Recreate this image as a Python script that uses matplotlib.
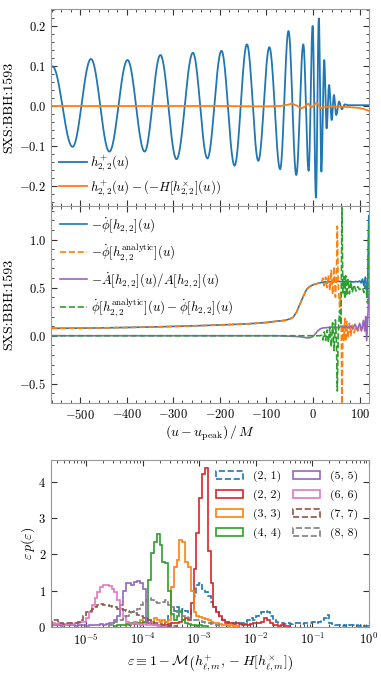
import numpy as np
import matplotlib
matplotlib.use("Agg")
import matplotlib.pyplot as plt
from matplotlib.ticker import MultipleLocator, LogLocator, NullFormatter

plt.rcParams["font.family"] = "serif"
plt.rcParams["font.serif"] = ["cmr10", "DejaVu Serif"]
plt.rcParams["mathtext.fontset"] = "cm"
plt.rcParams["axes.formatter.use_mathtext"] = True
plt.rcParams["font.size"] = 9
plt.rcParams["axes.labelsize"] = 10
plt.rcParams["legend.fontsize"] = 9.3

# ---- top panel: h22 plus, extrema (u, value)
ext_u = [-562, -558.9, -515.8, -476.3, -436.8, -397.9, -361.3, -327.4, -292.8, -257.7,
         -226.6, -196.4, -168.3, -141.8, -117.4, -93.7, -70.6, -52.7, -36.0, -20.9,
         -9.5, -0.9, 6.2, 12.4, 17.8, 24.0, 29.0, 34.4, 40.0, 44.7, 49.7, 55.9, 61.7,
         67.9, 75.0, 119.5]
ext_v = [0.097, 0.099, -0.102, 0.1175, -0.114, 0.115, -0.114, 0.1275, -0.133, 0.133,
         -0.131, 0.138, -0.149, 0.154, -0.137, 0.147, -0.158, 0.1875, -0.1725, 0.154,
         -0.162, 0.2, -0.229, 0.219, -0.164, 0.115, -0.056, 0.0525, -0.035, 0.0275,
         -0.0225, 0.011, -0.008, 0.004, 0.002, 0.002]

diff_u = [-562, -200, -100, -70, -55, -45, -35, -25, -18, -10, -4, 2, 8, 13, 17, 22,
          30, 45, 60, 80, 100, 110, 119.5]
diff_v = [0.0, 0.0, -0.001, 0.0, 0.003, 0.006, 0.001, -0.006, -0.002, 0.006, -0.004,
          0.002, 0.009, 0.0, -0.006, -0.002, -0.002, -0.001, -0.002, -0.003, -0.005,
          -0.008, -0.012]

# ---- middle panel: frequencies
u_mid = [-562, -500, -450, -400, -350, -300, -250, -200, -150, -120, -100, -80, -60,
         -50, -43, -35, -28, -20, -14, -8, 0, 10, 15, 18, 21, 24, 27, 30, 33, 36, 39,
         42, 45, 48, 50, 52, 54, 57, 60, 62, 64, 66, 68, 70, 72, 75, 78, 81, 84, 88,
         92, 96, 100, 103, 106, 109, 112, 115, 117, 119.5]
omega = [0.077, 0.079, 0.082, 0.086, 0.091, 0.097, 0.104, 0.112, 0.122, 0.13, 0.138,
         0.15, 0.16, 0.175, 0.19, 0.25, 0.33, 0.42, 0.48, 0.51, 0.53, 0.545, 0.55,
         0.555, 0.555, 0.56, 0.56, 0.56, 0.56, 0.56, 0.565, 0.565, 0.565, 0.565, 0.565,
         0.565, 0.565, 0.565, 0.565, 0.565, 0.565, 0.565, 0.565, 0.565, 0.565, 0.565,
         0.565, 0.565, 0.56, 0.56, 0.565, 0.56, 0.57, 0.55, 0.59, 0.52, 0.61, 0.5,
         0.42, 1.25]
omega_an = [0.077, 0.079, 0.082, 0.086, 0.091, 0.097, 0.104, 0.112, 0.122, 0.13, 0.138,
            0.15, 0.16, 0.175, 0.19, 0.25, 0.33, 0.42, 0.48, 0.51, 0.53, 0.545, 0.55,
            0.55, 0.6, 0.52, 0.61, 0.5, 0.63, 0.47, 0.68, 0.43, 0.72, 0.4, 0.6, 1.14,
            0.55, 0.3, 0.45, -0.8, 0.12, -0.05, 0.18, -0.06, 0.15, -0.02, 0.13, 0.0,
            0.11, 0.03, 0.1, 0.05, 0.09, 0.06, 0.09, 0.07, 0.09, 0.07, 0.08, 0.08]

u_amp = [-562, -300, -120, -80, -60, -45, -35, -25, -18, -12, -6, 0, 5, 10, 15, 20, 30,
         40, 50, 55, 60, 65, 70, 75, 80, 85, 90, 95, 100, 104, 108, 111, 113, 115, 117,
         119.5]
amp_rate = [0.0, 0.0, 0.0, 0.0, -0.003, -0.006, -0.008, -0.012, -0.018, -0.022, -0.02,
            -0.008, 0.02, 0.05, 0.07, 0.08, 0.085, 0.09, 0.09, 0.08, 0.1, 0.085, 0.095,
            0.08, 0.1, 0.07, 0.12, 0.06, 0.13, 0.05, 0.16, 0.05, 0.2, -0.05, 0.15, 0.42]

# ---- bottom panel: histograms of mismatch, 0.05-decade bins (start log10, heights)
bin_w = 0.05
modes = ["(2, 1)", "(2, 2)", "(3, 3)", "(4, 4)", "(5, 5)", "(6, 6)", "(7, 7)", "(8, 8)"]
hist_start = [-3.6, -3.6, -4.3, -4.5, -5.6, -5.6, -5.6, -4.6]
h21 = [0.15, 0.3, 0.5, 0.45, 0.55, 0.4, 0.5, 0.45, 0.35, 0.5, 0.85, 1.15, 1.2, 1.05, 0.95,
       0.85, 0.7, 0.55, 0.4, 0.25, 0.18, 0.12, 0.15, 0.12, 0.1, 0.15, 0.1, 0.12, 0.15,
       0.2, 0.25, 0.2, 0.3, 0.35, 0.4, 0.45, 0.4, 0.3, 0.2, 0.15, 0.1, 0.12, 0.08, 0.1,
       0.08, 0.1, 0.12, 0.1, 0.08, 0.1, 0.12, 0.1, 0.15, 0.12, 0.15, 0.2, 0.25, 0.32,
       0.1, 0.08, 0.05, 0.05, 0.04, 0.05, 0.04, 0.05, 0.06, 0.05, 0.04, 0.05, 0.04, 0.03]
h22 = [0.05, 0.08, 0.1, 0.12, 0.1, 0.15, 0.2, 0.25, 0.2, 0.65, 1.6, 2.6, 3.55, 4.2, 4.38,
       2.1, 1.2, 0.55, 0.4, 0.3, 0.2, 0.15, 0.12, 0.1, 0.08, 0.1, 0.08, 0.06, 0.08, 0.06,
       0.08, 0.1, 0.12, 0.1, 0.15, 0.25, 0.2, 0.1, 0.06, 0.05, 0.04, 0.05, 0.04, 0.03]
h33 = [0.05, 0.08, 0.1, 0.15, 0.1, 0.2, 0.15, 0.25, 0.2, 0.15, 0.25, 0.2, 0.15, 0.2, 0.15,
       0.2, 1.1, 1.65, 1.85, 2.4, 2.35, 1.8, 1.65, 1.0, 0.4, 0.3, 0.28, 0.25, 0.22, 0.2,
       0.15, 0.12, 0.1, 0.08, 0.06, 0.05, 0.04, 0.05, 0.04, 0.03]
h44 = [0.03, 0.05, 0.06, 0.05, 0.08, 0.06, 0.1, 0.08, 0.12, 0.1, 0.15, 0.12, 1.3, 2.05,
       2.35, 2.55, 2.25, 1.8, 1.75, 1.0, 0.35, 0.2, 0.3, 0.45, 0.2, 0.1, 0.08, 0.06, 0.05,
       0.04, 0.05, 0.04, 0.03]
h55 = [0.05, 0.06, 0.05, 0.04, 0.06, 0.05, 0.05, 0.06, 0.04, 0.05, 0.06, 0.05, 0.04, 0.06,
       0.05, 0.06, 0.05, 0.07, 0.06, 0.08, 0.1, 0.12, 0.18, 0.3, 0.6, 1.0, 1.2, 1.2, 1.15,
       1.25, 1.27, 1.2, 1.05, 0.15, 0.1, 0.08, 0.06, 0.05, 0.04, 0.05, 0.04, 0.03]
h66 = [0.1, 0.08, 0.1, 0.08, 0.06, 0.08, 0.1, 0.08, 0.1, 0.12, 0.15, 0.15, 0.25, 0.4, 0.6,
       0.8, 0.95, 1.1, 1.15, 1.15, 1.12, 1.05, 0.95, 0.75, 0.5, 0.3, 0.15, 0.1, 0.08, 0.1,
       0.08, 0.06, 0.08, 0.06, 0.05, 0.06, 0.05, 0.04, 0.05, 0.04, 0.03]
h77 = [0.2, 0.18, 0.12, 0.1, 0.08, 0.1, 0.12, 0.1, 0.12, 0.15, 0.2, 0.3, 0.4, 0.45, 0.5,
       0.55, 0.6, 0.62, 0.6, 0.6, 0.58, 0.55, 0.55, 0.5, 0.5, 0.48, 0.45, 0.42, 0.4, 0.38,
       0.32, 0.3, 0.25, 0.22, 0.18, 0.15, 0.12, 0.1, 0.08, 0.06, 0.05, 0.04, 0.05, 0.04]
h88 = [0.05, 0.1, 0.15, 0.18, 0.2, 0.25, 0.3, 0.35, 0.4, 0.45, 0.5, 0.6, 0.7, 0.75, 0.8,
       0.75, 0.7, 0.65, 0.65, 0.7, 0.75, 0.6, 0.55, 0.45, 0.4, 0.35, 0.3, 0.28, 0.25, 0.22,
       0.2, 0.2, 0.18, 0.15, 0.12, 0.1, 0.08, 0.06, 0.05, 0.04]
hist_vals = [h21, h22, h33, h44, h55, h66, h77, h88]
hist_colors = ["tab:blue", "tab:red", "tab:orange", "tab:green", "tab:purple", "tab:pink",
               "tab:brown", "tab:gray"]
hist_ls = ["--", "-", "-", "-", "-", "-", "--", "--"]


def through_extrema(uu, vv, n=40):
    # half-cosine between consecutive read-off extrema
    xs, ys = [], []
    for i in range(len(uu) - 1):
        s = np.linspace(0, 1, n, endpoint=False)
        xs.append(uu[i] + (uu[i + 1] - uu[i]) * s)
        ys.append(vv[i] + (vv[i + 1] - vv[i]) * (1 - np.cos(np.pi * s)) / 2)
    xs.append([uu[-1]])
    ys.append([vv[-1]])
    return np.concatenate(xs), np.concatenate(ys)


def style(ax):
    for sp in ax.spines.values():
        sp.set_color("0.6")
    ax.tick_params(which="both", direction="in", top=True, right=True, color="0.2")
    ax.tick_params(which="major", length=4.5)
    ax.tick_params(which="minor", length=2.5)


fig = plt.figure(figsize=(3.81, 6.77), dpi=100)
ax1 = fig.add_axes([0.1339, 0.6957, 0.8346, 0.2910])
ax2 = fig.add_axes([0.1339, 0.4047, 0.8346, 0.2910], sharex=ax1)
ax3 = fig.add_axes([0.1339, 0.0739, 0.8346, 0.2467])

hu, hv = through_extrema(ext_u, ext_v)
ax1.plot(hu, hv, color="tab:blue", lw=1.3, label=r"$h^{+}_{2,2}(u)$")
ax1.plot(diff_u, diff_v, color="tab:orange", lw=1.3,
         label=r"$h^{+}_{2,2}(u) - (-H[h^{\times}_{2,2}](u))$")
ax1.set_ylim(-0.25, 0.2425)
ax1.set_ylabel("SXS:BBH:1593", labelpad=3)
ax1.yaxis.set_major_locator(MultipleLocator(0.1))
ax1.yaxis.set_minor_locator(MultipleLocator(0.02))
ax1.legend(loc="lower left", frameon=False, handlelength=2.1, handletextpad=0.3,
           borderaxespad=0.25, labelspacing=0.35)
plt.setp(ax1.get_xticklabels(), visible=False)
style(ax1)

om = np.array(omega)
om_an = np.array(omega_an)
ax2.plot(u_mid, om, color="tab:blue", lw=1.2, label=r"$-\dot{\phi}[h_{2,2}](u)$")
ax2.plot(u_mid, om_an, color="tab:orange", lw=1.2, ls="--",
         label=r"$-\dot{\phi}[h_{2,2}^{\rm analytic}](u)$")
ax2.plot(u_amp, amp_rate, color="tab:purple", lw=1.2,
         label=r"$-\dot{A}[h_{2,2}](u)/A[h_{2,2}](u)$")
ax2.plot(u_mid, om - om_an, color="tab:green", lw=1.2, ls="--",
         label=r"$\dot{\phi}[h_{2,2}^{\rm analytic}](u) - \dot{\phi}[h_{2,2}](u)$")
ax2.set_ylim(-0.7, 1.35)
ax2.set_xlim(-562, 120)
ax2.set_ylabel("SXS:BBH:1593", labelpad=3)
ax2.set_xlabel(r"$(u - u_{\rm peak})\,/\,M$", labelpad=1)
ax2.xaxis.set_major_locator(MultipleLocator(100))
ax2.xaxis.set_minor_locator(MultipleLocator(20))
ax2.yaxis.set_major_locator(MultipleLocator(0.5))
ax2.yaxis.set_minor_locator(MultipleLocator(0.1))
ax2.legend(loc="upper left", frameon=False, handlelength=2.1, handletextpad=0.3,
           borderaxespad=0.3, labelspacing=0.5)
style(ax2)

for name, start, vals, col, ls in zip(modes, hist_start, hist_vals, hist_colors, hist_ls):
    edges = 10 ** (start + bin_w * np.arange(len(vals) + 1))
    centers = np.sqrt(edges[:-1] * edges[1:])
    ax3.hist(centers, bins=edges, weights=vals, histtype="step", color=col, ls=ls,
             lw=1.2, label=name)
ax3.set_xscale("log")
ax3.set_xlim(10 ** -5.62, 1.0)
ax3.set_ylim(0, 4.6)
ax3.xaxis.set_major_locator(LogLocator(base=10, numticks=10))
ax3.xaxis.set_minor_locator(LogLocator(base=10, subs=np.arange(2, 10), numticks=10))
ax3.xaxis.set_minor_formatter(NullFormatter())
ax3.yaxis.set_major_locator(MultipleLocator(1))
ax3.set_ylabel(r"$\varepsilon\, p(\varepsilon)$", labelpad=1)
ax3.set_xlabel(r"$\varepsilon \equiv 1 - \mathcal{M}\left(h^{+}_{\ell,m}, -H[h^{\times}_{\ell,m}]\right)$")
ax3.legend(loc="upper right", ncol=2, frameon=False, fontsize=8.5, handlelength=2.3,
           handletextpad=0.85, columnspacing=1.0, labelspacing=0.65, borderaxespad=0.5)
style(ax3)

fig.savefig("out.png", dpi=100)
